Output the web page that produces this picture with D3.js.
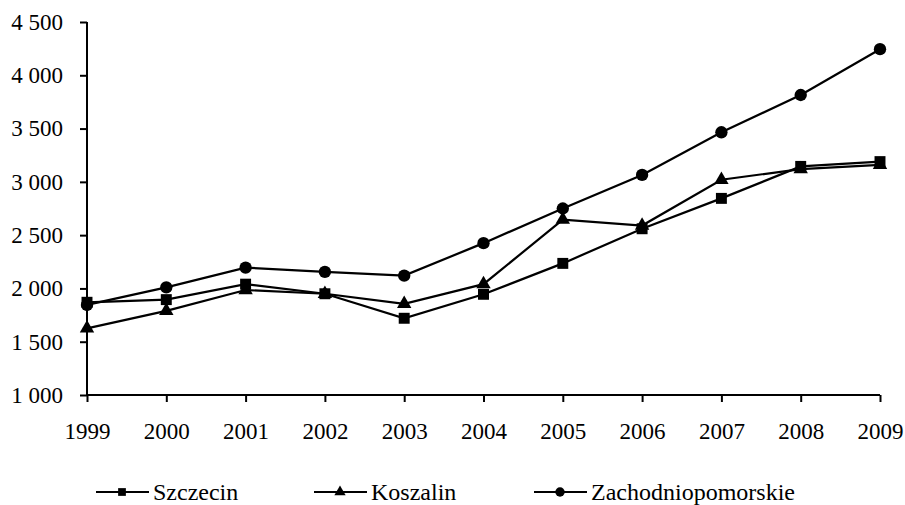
<!DOCTYPE html>
<html>
<head>
<meta charset="utf-8">
<script src="https://cdn.jsdelivr.net/npm/d3@7"></script>
<style>
  body { margin: 0; background: #fff; }
</style>
</head>
<body>
<svg id="chart"></svg>
<script>
const width = 905, height = 505;

const years = [1999, 2000, 2001, 2002, 2003, 2004, 2005, 2006, 2007, 2008, 2009];
const szczecin = [1870, 1895, 2040, 1950, 1720, 1945, 2235, 2560, 2845, 3145, 3190];
const koszalin = [1625, 1790, 1985, 1950, 1855, 2040, 2645, 2590, 3020, 3120, 3160];
const zachodniopomorskie = [1845, 2010, 2195, 2155, 2120, 2425, 2750, 3065, 3465, 3815, 4245];
const yTicks = [1000, 1500, 2000, 2500, 3000, 3500, 4000, 4500];

const series = [
  { name: "Szczecin", values: szczecin, symbol: d3.symbolSquare, size: 120, legendSize: 60 },
  { name: "Koszalin", values: koszalin, symbol: d3.symbolTriangle, size: 90, legendSize: 55 },
  { name: "Zachodniopomorskie", values: zachodniopomorskie, symbol: d3.symbolCircle, size: 120, legendSize: 70 }
];

const plot = { left: 87, right: 880, top: 22, bottom: 395 };

const svg = d3.select("#chart")
              .attr("width", width)
              .attr("height", height);

const x = d3.scalePoint()
            .domain(years)
            .range([plot.left, plot.right]);

const y = d3.scaleLinear()
            .domain([1000, 4500])
            .range([plot.bottom, plot.top]);

const fmt = d3.formatLocale({ decimal: ",", thousands: "\u00a0", grouping: [3], currency: ["", ""] }).format(",d");

// y axis
const yAxis = svg.append("g")
                 .attr("transform", `translate(${plot.left},0)`)
                 .call(d3.axisLeft(y).tickValues(yTicks).tickFormat(fmt).tickSize(7).tickPadding(17));
// x axis
const xAxis = svg.append("g")
                 .attr("transform", `translate(0,${plot.bottom})`)
                 .call(d3.axisBottom(x).tickSize(7).tickPadding(21));

[yAxis, xAxis].forEach(a => {
  a.attr("font-family", "Liberation Serif").attr("font-size", 23);
  a.select(".domain").attr("stroke", "#000").attr("stroke-width", 2);
  a.selectAll(".tick line").attr("stroke", "#000").attr("stroke-width", 2);
  a.selectAll(".tick text").attr("fill", "#000");
});
yAxis.select(".domain").attr("d", `M0,${plot.top}V${plot.bottom}`);
xAxis.select(".domain").attr("d", `M${plot.left},0H${plot.right}`);

const line = d3.line()
               .x((d, i) => x(years[i]))
               .y(d => y(d));

series.forEach(s => {
  const g = svg.append("g");
  g.append("path")
   .attr("d", line(s.values))
   .attr("fill", "none")
   .attr("stroke", "#000")
   .attr("stroke-width", 2.2);
  g.selectAll("path.marker")
   .data(s.values)
   .enter()
   .append("path")
   .attr("class", "marker")
   .attr("d", d3.symbol().type(s.symbol).size(s.size))
   .attr("transform", (d, i) => `translate(${x(years[i])},${y(d)})`)
   .attr("fill", "#000");
});

// legend
const legendX = [96, 314, 534];
const legend = svg.append("g").attr("transform", "translate(0,492)");
series.forEach((s, i) => {
  const g = legend.append("g").attr("transform", `translate(${legendX[i]},0)`);
  g.append("line")
   .attr("x1", 0).attr("x2", 53)
   .attr("stroke", "#000").attr("stroke-width", 2);
  g.append("path")
   .attr("d", d3.symbol().type(s.symbol).size(s.legendSize))
   .attr("transform", "translate(26,0)")
   .attr("fill", "#000");
  g.append("text")
   .attr("x", 57)
   .attr("y", 8)
   .attr("font-family", "Liberation Serif")
   .attr("font-size", 24)
   .attr("fill", "#000")
   .text(s.name);
});
</script>
</body>
</html>
